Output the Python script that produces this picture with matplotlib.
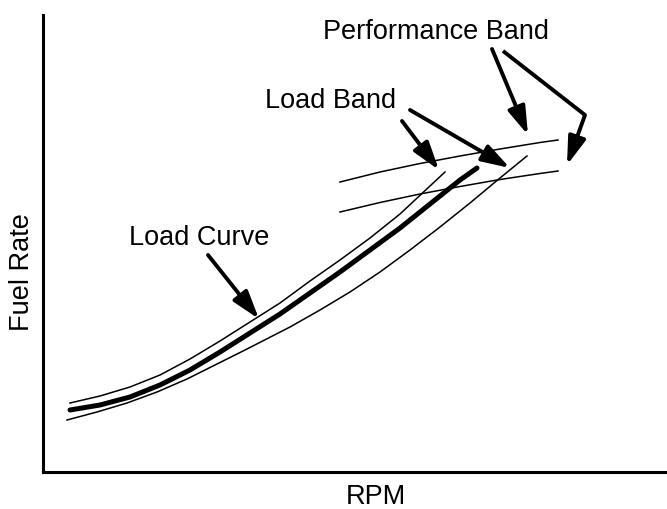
import matplotlib
matplotlib.use("Agg")
import matplotlib.pyplot as plt

plt.rcParams['font.family'] = ['Liberation Sans', 'DejaVu Sans']

# schematic curves (arbitrary units)
load_x = [27, 57, 87, 117, 147, 177, 207, 237, 267, 297, 327, 357, 387, 417, 434]
load_y = [62, 67, 75, 87, 102, 120, 139, 158, 179, 200, 222, 244, 268, 292, 304]

band_hi_x = [27, 57, 87, 117, 147, 177, 207, 237, 267, 297, 327, 357, 387, 402]
band_hi_y = [69, 76, 85, 97, 113, 131, 150, 169, 191, 212, 234, 258, 286, 300]

band_lo_x = [24, 54, 84, 114, 144, 174, 204, 247, 277, 307, 337, 367, 397, 427, 457, 484]
band_lo_y = [52, 60, 69, 80, 93, 108, 123, 145, 162, 180, 200, 222, 245, 269, 294, 316]

perf_hi_x = [297, 337, 377, 417, 457, 497, 515]
perf_hi_y = [290, 300, 308.5, 316, 323, 329.5, 332]

perf_lo_x = [297, 337, 377, 417, 457, 497, 515]
perf_lo_y = [260, 269.5, 278, 285.5, 292.5, 298.5, 301]

fig = plt.figure(figsize=(6.67, 5.09), dpi=100)
ax = fig.add_axes([43/667, 37/509, 622/667, 457/509])

ax.plot(load_x, load_y, color='black', lw=3.6, solid_capstyle='round')
ax.plot(band_hi_x, band_hi_y, color='black', lw=1.1)
ax.plot(band_lo_x, band_lo_y, color='black', lw=1.1)
ax.plot(perf_hi_x, perf_hi_y, color='black', lw=1.1)
ax.plot(perf_lo_x, perf_lo_y, color='black', lw=1.1)

arrow = dict(arrowstyle='-|>,head_length=0.85,head_width=0.27', color='black',
             lw=2.8, mutation_scale=20, shrinkA=0, shrinkB=0)

fs = 19.5
ax.text(156, 234, 'Load Curve', fontsize=fs, ha='center', va='center')
ax.annotate('', xy=(216, 153), xytext=(165, 217), arrowprops=arrow)

ax.text(288, 371, 'Load Band', fontsize=fs, ha='center', va='center')
ax.annotate('', xy=(396, 302), xytext=(359, 351), arrowprops=arrow)
ax.annotate('', xy=(467, 304), xytext=(367, 362), arrowprops=arrow)

ax.text(393, 440, 'Performance Band', fontsize=fs, ha='center', va='center')
ax.annotate('', xy=(485, 337), xytext=(449, 423), arrowprops=arrow)
ax.plot([460, 542], [421, 357], color='black', lw=2.8, solid_capstyle='butt')
ax.annotate('', xy=(524, 307), xytext=(542, 357), arrowprops=arrow)

ax.set_xlim(0, 622)
ax.set_ylim(0, 457)
ax.set_xticks([])
ax.set_yticks([])
for s in ['top', 'right']:
    ax.spines[s].set_visible(False)
for s in ['left', 'bottom']:
    ax.spines[s].set_linewidth(2.2)

fig.text(376/667, 1 - 497/509, 'RPM', fontsize=fs, ha='center', va='center')
fig.text(22/667, 1 - 272/509, 'Fuel Rate', fontsize=fs, ha='center', va='center',
         rotation=90)

fig.savefig('out.png', dpi=100)
